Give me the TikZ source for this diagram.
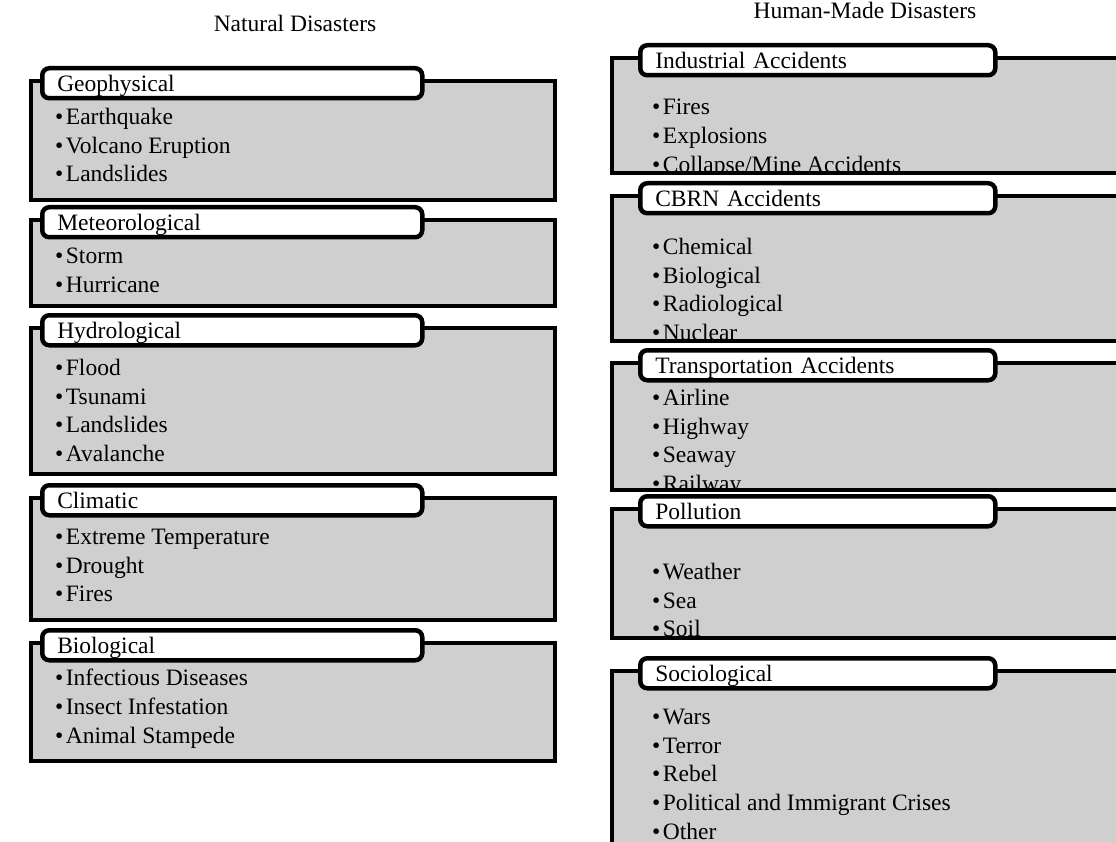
\documentclass[tikz,border=0pt]{standalone}
\usepackage{fontspec}
\setmainfont{Liberation Serif}
\usetikzlibrary{positioning}
\usepackage{xcolor}
\definecolor{zfill}{RGB}{207, 207, 207}
\newcommand{\txtfont}{\fontsize{23.5}{28.7}\selectfont}
\newcommand{\itm}{\textbullet\hspace{2.5pt}}

\begin{document}
\begin{tikzpicture}[x=1pt, y=-1pt,
  bodybox/.style={rectangle, draw=black, line width=4.5pt, fill=zfill,
                  anchor=north west, inner sep=0pt, outer sep=0pt},
  tabbox/.style={rectangle, rounded corners=7pt, draw=black, line width=4.5pt, fill=white,
                 anchor=north west, minimum height=30pt, inner xsep=15pt, inner ysep=0pt,
                 text height=16pt, text depth=0pt, align=left, font=\txtfont},
  ltab/.style={tabbox, text width=350pt},
  rtab/.style={tabbox, text width=325pt},
  itemlist/.style={anchor=north west, inner sep=0pt, align=left, font=\txtfont},
  headline/.style={anchor=base, font=\txtfont}
]
\useasboundingbox (0,0) rectangle (1116,842);
\clip (0,0) rectangle (1116,842);

% Column headings
\node[headline] (nat) at (295,32) {Natural Disasters};
\node[headline] (hum) at (865,19) {Human-Made Disasters};

% Natural disasters (left column)
\node[bodybox, minimum width=524pt, minimum height=119pt] (geo) at (31,81) {};
\node[ltab] (geo-tab) at (40,66) {Geophysical};
\node[itemlist] (geo-list) at (55,108)
  {\itm Earthquake\\\itm Volcano Eruption\\\itm Landslides};

\node[bodybox, minimum width=524pt, minimum height=86pt] (met) at (31,220) {};
\node[ltab] (met-tab) at (40,205) {Meteorological};
\node[itemlist] (met-list) at (55,248)
  {\itm Storm\\\itm Hurricane};

\node[bodybox, minimum width=524pt, minimum height=146pt] (hyd) at (31,328) {};
\node[ltab] (hyd-tab) at (40,313) {Hydrological};
\node[itemlist] (hyd-list) at (55,359)
  {\itm Flood\\\itm Tsunami\\\itm Landslides\\\itm Avalanche};

\node[bodybox, minimum width=524pt, minimum height=122pt] (cli) at (31,498) {};
\node[ltab] (cli-tab) at (40,483) {Climatic};
\node[itemlist] (cli-list) at (55,529)
  {\itm Extreme Temperature\\\itm Drought\\\itm Fires};

\node[bodybox, minimum width=524pt, minimum height=118pt] (bio) at (31,643) {};
\node[ltab] (bio-tab) at (40,628) {Biological};
\node[itemlist] (bio-list) at (55,669)
  {\itm Infectious Diseases\\\itm Insect Infestation\\\itm Animal Stampede};

% Human-made disasters (right column), lists cut off at the box edge
\node[bodybox, minimum width=528pt, minimum height=115pt] (ind) at (612,58) {};
\begin{scope}
  \clip ([shift={(2.25pt,-2.25pt)}]ind.north west) rectangle ([shift={(-2.25pt,2.25pt)}]ind.south east);
  \node[itemlist] (ind-list) at (652,99)
    {\itm Fires\\\itm Explosions\\\itm Collapse/Mine Accidents};
\end{scope}
\node[rtab] (ind-tab) at (638,43) {Industrial Accidents};

\node[bodybox, minimum width=528pt, minimum height=145pt] (cbrn) at (612,196) {};
\begin{scope}
  \clip ([shift={(2.25pt,-2.25pt)}]cbrn.north west) rectangle ([shift={(-2.25pt,2.25pt)}]cbrn.south east);
  \node[itemlist] (cbrn-list) at (652,238)
    {\itm Chemical\\\itm Biological\\\itm Radiological\\\itm Nuclear};
\end{scope}
\node[rtab] (cbrn-tab) at (638,181) {CBRN Accidents};

\node[bodybox, minimum width=528pt, minimum height=127pt] (trn) at (612,363) {};
\begin{scope}
  \clip ([shift={(2.25pt,-2.25pt)}]trn.north west) rectangle ([shift={(-2.25pt,2.25pt)}]trn.south east);
  \node[itemlist] (trn-list) at (652,389)
    {\itm Airline\\\itm Highway\\\itm Seaway\\\itm Railway};
\end{scope}
\node[rtab] (trn-tab) at (638,348) {Transportation Accidents};

\node[bodybox, minimum width=528pt, minimum height=129pt] (pol) at (612,509) {};
\begin{scope}
  \clip ([shift={(2.25pt,-2.25pt)}]pol.north west) rectangle ([shift={(-2.25pt,2.25pt)}]pol.south east);
  \node[itemlist] (pol-list) at (652,563)
    {\itm Weather\\\itm Sea\\\itm Soil};
\end{scope}
\node[rtab] (pol-tab) at (638,494) {Pollution};

\node[bodybox, minimum width=528pt, minimum height=190pt] (soc) at (612,671) {};
\begin{scope}
  \clip ([shift={(2.25pt,-2.25pt)}]soc.north west) rectangle ([shift={(-2.25pt,2.25pt)}]soc.south east);
  \node[itemlist] (soc-list) at (652,709)
    {\itm Wars\\\itm Terror\\\itm Rebel\\\itm Political and Immigrant Crises\\\itm Other};
\end{scope}
\node[rtab] (soc-tab) at (638,656) {Sociological};

\end{tikzpicture}
\end{document}
